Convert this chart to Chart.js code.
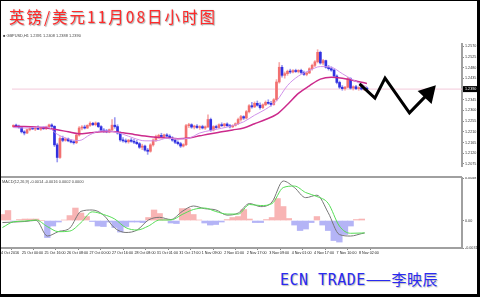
<!DOCTYPE html>
<html>
<head>
<meta charset="utf-8">
<script src="https://cdn.jsdelivr.net/npm/chart.js@4.4.0/dist/chart.umd.min.js"></script>
<style>
  html, body { margin: 0; padding: 0; background: #fff; }
  body { position: relative; width: 480px; height: 297px; overflow: hidden; }
  canvas { position: absolute; }
  #priceChart { left: 1px; top: 33px; }
  #macdChart { left: 1px; top: 177px; }
  #frame { position: absolute; left: 0; top: 0; width: 480px; height: 297px; box-sizing: border-box;
           border-style: solid; border-color: #000; border-width: 1px 3px 3px 1px; }
  #sep { position: absolute; left: 1px; top: 176px; width: 461px; height: 2px; background: #a0a0a0; }
  .tiny { position: absolute; font: 3.9px "Liberation Sans", Arial, sans-serif; color: #444; white-space: nowrap; }
  #title { position: absolute; left: 9px; top: 5px; line-height: 20px; white-space: nowrap;
           font: 15.5px "Noto Sans CJK SC", sans-serif; letter-spacing: 2px; color: #ff2a2a;
           text-shadow: 1px 1px 1px #aaa, 0 0 2px #ddd; }
  #sign { position: absolute; left: 280px; top: 270px; line-height: 18px; white-space: nowrap;
          font-size: 15px; color: #2a2af0; letter-spacing: 0.5px; text-shadow: 1px 1px 1px #bbb; }
  #sign .mono { font-family: "DejaVu Sans Mono", monospace; }
  #sign .cjk { font-family: "Noto Sans CJK SC", sans-serif; }
</style>
</head>
<body>
<canvas id="priceChart" width="476" height="144"></canvas>
<canvas id="macdChart" width="476" height="86"></canvas>
<div id="sep"></div>
<div class="tiny" style="left:3px; top:33px;">&#9632; GBPUSD,H1 1.2391 1.2408 1.2388 1.2390</div>
<div class="tiny" style="left:2px; top:179px;">MACD(12,26,9) -0.0014 -0.0016 0.0002 0.0000</div>
<div id="title">英镑/美元11月08日小时图</div>
<div id="sign"><span class="mono">ECN TRADE</span><span class="cjk">——李映辰</span></div>
<div id="frame"></div>
<script>
// 2-hour candles, GBPUSD 24 Oct - 8 Nov 2016
const opens = [
  1.2232,1.2237,1.2234,1.2228,1.2210,1.2205,1.2219,1.2225,1.2222,1.2227,
  1.2221,1.2226,1.2223,1.2231,1.2239,1.2233,1.2155,1.2102,1.2182,1.2174,
  1.2180,1.2172,1.2167,1.2164,1.2196,1.2226,1.2230,1.2226,1.2237,1.2246,
  1.2240,1.2247,1.2232,1.2216,1.2213,1.2210,1.2219,1.2238,1.2232,1.2205,
  1.2176,1.2172,1.2168,1.2175,1.2170,1.2166,1.2160,1.2145,1.2150,1.2133,
  1.2128,1.2155,1.2175,1.2190,1.2195,1.2190,1.2197,1.2192,1.2184,1.2175,
  1.2166,1.2160,1.2150,1.2156,1.2236,1.2240,1.2230,1.2234,1.2228,1.2232,
  1.2226,1.2231,1.2262,1.2218,1.2232,1.2228,1.2240,1.2236,1.2243,1.2236,
  1.2231,1.2237,1.2244,1.2262,1.2274,1.2268,1.2295,1.2320,1.2315,1.2330,
  1.2322,1.2312,1.2324,1.2334,1.2330,1.2325,1.2345,1.2420,1.2482,1.2448,
  1.2455,1.2465,1.2462,1.2468,1.2464,1.2469,1.2460,1.2452,1.2458,1.2476,
  1.2490,1.2505,1.2545,1.2500,1.2510,1.2482,1.2476,1.2470,1.2445,1.2418,
  1.2398,1.2392,1.2398,1.2434,1.2394,1.2400,1.2392,1.2396,1.2390,1.2394
];
const highs = [
  1.2240,1.2243,1.2238,1.2231,1.2215,1.2222,1.2228,1.2232,1.2230,1.2235,
  1.2229,1.2232,1.2234,1.2243,1.2244,1.2236,1.2162,1.2190,1.2192,1.2185,
  1.2184,1.2178,1.2172,1.2200,1.2232,1.2236,1.2238,1.2240,1.2252,1.2250,
  1.2252,1.2250,1.2236,1.2224,1.2220,1.2222,1.2262,1.2270,1.2240,1.2210,
  1.2186,1.2180,1.2178,1.2182,1.2178,1.2174,1.2165,1.2158,1.2154,1.2140,
  1.2160,1.2180,1.2196,1.2200,1.2204,1.2200,1.2203,1.2198,1.2190,1.2180,
  1.2172,1.2166,1.2160,1.2242,1.2246,1.2244,1.2238,1.2240,1.2236,1.2238,
  1.2235,1.2282,1.2268,1.2236,1.2238,1.2244,1.2248,1.2246,1.2248,1.2242,
  1.2240,1.2248,1.2268,1.2280,1.2278,1.2300,1.2325,1.2334,1.2336,1.2340,
  1.2332,1.2328,1.2340,1.2345,1.2338,1.2350,1.2430,1.2502,1.2490,1.2462,
  1.2470,1.2474,1.2472,1.2474,1.2472,1.2474,1.2466,1.2462,1.2480,1.2495,
  1.2510,1.2556,1.2550,1.2515,1.2512,1.2490,1.2484,1.2474,1.2450,1.2424,
  1.2405,1.2402,1.2440,1.2438,1.2404,1.2406,1.2400,1.2402,1.2398,1.2398
];
const lows = [
  1.2228,1.2230,1.2225,1.2205,1.2197,1.2202,1.2214,1.2220,1.2215,1.2219,
  1.2216,1.2220,1.2219,1.2227,1.2228,1.2148,1.2083,1.2098,1.2168,1.2170,
  1.2168,1.2163,1.2158,1.2160,1.2192,1.2218,1.2222,1.2224,1.2233,1.2236,
  1.2235,1.2228,1.2212,1.2208,1.2206,1.2206,1.2214,1.2225,1.2200,1.2170,
  1.2166,1.2163,1.2162,1.2166,1.2160,1.2156,1.2140,1.2135,1.2128,1.2115,
  1.2124,1.2150,1.2170,1.2183,1.2186,1.2185,1.2188,1.2180,1.2170,1.2160,
  1.2155,1.2144,1.2146,1.2152,1.2228,1.2225,1.2222,1.2224,1.2220,1.2222,
  1.2220,1.2228,1.2212,1.2214,1.2224,1.2225,1.2232,1.2230,1.2232,1.2226,
  1.2228,1.2234,1.2240,1.2255,1.2262,1.2264,1.2290,1.2310,1.2312,1.2318,
  1.2305,1.2308,1.2320,1.2326,1.2318,1.2322,1.2340,1.2415,1.2440,1.2436,
  1.2448,1.2456,1.2458,1.2460,1.2458,1.2455,1.2448,1.2446,1.2455,1.2470,
  1.2485,1.2500,1.2495,1.2492,1.2478,1.2470,1.2465,1.2440,1.2412,1.2392,
  1.2385,1.2386,1.2395,1.2390,1.2386,1.2388,1.2385,1.2386,1.2384,1.2388
];
const closes = [
  1.2237,1.2234,1.2228,1.2210,1.2205,1.2219,1.2225,1.2222,1.2227,1.2221,
  1.2226,1.2223,1.2231,1.2239,1.2233,1.2155,1.2102,1.2182,1.2174,1.2180,
  1.2172,1.2167,1.2164,1.2196,1.2226,1.2230,1.2226,1.2237,1.2246,1.2240,
  1.2247,1.2232,1.2216,1.2213,1.2210,1.2219,1.2238,1.2232,1.2205,1.2176,
  1.2172,1.2168,1.2175,1.2170,1.2166,1.2160,1.2145,1.2150,1.2133,1.2128,
  1.2155,1.2175,1.2190,1.2195,1.2190,1.2197,1.2192,1.2184,1.2175,1.2166,
  1.2160,1.2150,1.2156,1.2236,1.2240,1.2230,1.2234,1.2228,1.2232,1.2226,
  1.2231,1.2262,1.2218,1.2232,1.2228,1.2240,1.2236,1.2243,1.2236,1.2231,
  1.2237,1.2244,1.2262,1.2274,1.2268,1.2295,1.2320,1.2315,1.2330,1.2322,
  1.2312,1.2324,1.2334,1.2330,1.2325,1.2345,1.2420,1.2482,1.2448,1.2455,
  1.2465,1.2462,1.2468,1.2464,1.2469,1.2460,1.2452,1.2458,1.2476,1.2490,
  1.2505,1.2545,1.2500,1.2510,1.2482,1.2476,1.2470,1.2445,1.2418,1.2398,
  1.2392,1.2398,1.2434,1.2394,1.2400,1.2392,1.2396,1.2390,1.2394,1.2390
];

// moving averages and MACD lines, read every 4 bars
const maIdx = [0,4,8,12,16,20,24,28,32,36,40,44,48,52,56,60,64,68,72,76,80,84,88,92,96,100,104,108,112,116,120,124,128,129];
const fastMA = [1.2228,1.2226,1.2228,1.2232,1.2200,1.2180,1.2173,1.2198,1.2214,1.2212,1.2200,1.2183,1.2172,1.2172,1.2183,1.2180,1.2183,
  1.2205,1.2216,1.2225,1.2236,1.2252,1.2280,1.2305,1.2340,1.2405,1.2445,1.2468,1.2485,1.2482,1.2455,1.2428,1.2405,1.2400];
const slowMA = [1.2233,1.2232,1.2230,1.2226,1.2219,1.2210,1.2202,1.2206,1.2210,1.2211,1.2206,1.2199,1.2192,1.2187,1.2184,1.2181,1.2184,
  1.2193,1.2202,1.2210,1.2218,1.2226,1.2244,1.2262,1.2283,1.2325,1.2372,1.2404,1.2432,1.2440,1.2436,1.2426,1.2417,1.2414];
const macdMain = [-0.00023,-0.00017,-0.00011,0.00002,-0.00175,-0.00124,-0.00085,0.00104,0.00119,0.00062,-0.00085,-0.00135,-0.00107,
  0.00006,0.00036,0.00011,0.00102,0.00164,0.00134,0.00120,0.00061,0.00085,0.00192,0.00157,0.00209,0.00446,0.00372,0.00258,0.00286,
  0.00090,-0.00158,-0.00175,-0.00147,-0.00141];
const macdSignal = [-0.00079,-0.00014,-0.00006,0.00006,-0.00068,-0.00126,-0.00119,-0.00023,0.00098,0.00068,0.00017,-0.00081,-0.00107,
  -0.00062,0.00006,0.00006,0.00068,0.00124,0.00141,0.00102,0.00073,0.00073,0.00181,0.00169,0.00191,0.00372,0.00389,0.00316,0.00271,
  0.00195,-0.00062,-0.00144,-0.00141,-0.00139];

// histogram, every 2 bars (0, 2, ... 128)
const histIdx = Array.from({ length: 65 }, (_, k) => k * 2);
const macdHist = [0.00068,0.00113,-0.00006,0.00011,0.00017,0.00017,0.00017,0,-0.00192,-0.00062,-0.00017,0.00006,0.00056,0.00141,
  0.00085,0.00045,-0.00011,-0.00062,-0.00068,-0.00017,-0.00079,-0.00130,-0.00068,-0.00017,-0.00017,-0.00023,0.00034,0.00119,0.00079,
  0.00011,-0.00028,-0.00034,0.00135,0.00135,0.00068,0.00006,-0.00028,-0.00051,-0.00045,-0.00017,0.00011,0.00034,0.00045,0.00124,
  0.00017,-0.00023,-0.00023,0.00011,0.00034,0.00248,0.00158,0.00023,-0.00051,-0.00113,-0.00096,-0.00023,0.00045,-0.00051,-0.00113,
  -0.00226,-0.00243,-0.00158,-0.00062,0.00011,0.00017];

// hand drawn forecast zig-zag (bar index, price)
const forecastIdx = [126.3, 131.9, 135.6, 144.5, 151.4];
const forecastPrice = [1.2412, 1.2352, 1.2436, 1.2290, 1.2372];

// axes
const priceTicks = [1.2075,1.2120,1.2165,1.2210,1.2255,1.2300,1.2345,1.2390,1.2435,1.2480,1.2525,1.2570];
const macdTicks = [-0.0031, 0, 0.0048];
const macdTickLabels = ["-0.0031", "0.00", "0.0048"];
const timeTickIdx = [-0.5,7,15,23,31,39,47,55,63,71,79,87,95,103,111,119,127];
const timeTickLabels = ["4 Oct 2016","25 Oct 00:00","25 Oct 16:00","26 Oct 08:00","27 Oct 00:00","27 Oct 16:00","28 Oct 08:00",
  "31 Oct 01:00","31 Oct 17:00","1 Nov 09:00","2 Nov 01:00","2 Nov 17:00","3 Nov 09:00","4 Nov 01:00","4 Nov 17:00",
  "7 Nov 10:00","8 Nov 02:00"];

const X_MIN = -0.5, X_MAX = 163.67;
const tickFont = { family: "'Liberation Sans', Arial, sans-serif", size: 3.7 };
const axisGrey = "#a0a0a0";

function isBull(i) { return closes[i] >= opens[i]; }

function fixRightAxis(scale) {
  scale.width = 15;
  scale.paddingTop = 0;
  scale.paddingBottom = 0;
}

// bid line across the chart and black price box on the axis
const bidPlugin = {
  id: "bid",
  beforeDatasetsDraw(chart) {
    const { ctx, chartArea } = chart;
    const y = chart.scales.y.getPixelForValue(closes[closes.length - 1]);
    ctx.save();
    ctx.strokeStyle = "#f3c9da";
    ctx.lineWidth = 1;
    ctx.beginPath();
    ctx.moveTo(chartArea.left, y);
    ctx.lineTo(chartArea.right, y);
    ctx.stroke();
    ctx.restore();
  },
  afterDraw(chart) {
    const { ctx, chartArea } = chart;
    const last = closes[closes.length - 1];
    const y = chart.scales.y.getPixelForValue(last);
    ctx.save();
    ctx.fillStyle = "#000";
    ctx.fillRect(chartArea.right + 1, y - 3, 14, 6);
    ctx.fillStyle = "#fff";
    ctx.font = tickFont.size + "px " + tickFont.family;
    ctx.textBaseline = "middle";
    ctx.fillText(last.toFixed(4), chartArea.right + 3, y);
    ctx.restore();
  }
};

const priceChart = new Chart(document.getElementById("priceChart"), {
  type: "bar",
  data: {
    datasets: [
      {
        type: "line",
        data: forecastIdx.map((x, k) => ({ x: x, y: forecastPrice[k] })),
        borderColor: "#000",
        borderWidth: 3,
        pointStyle: "triangle",
        pointRadius: forecastIdx.map((x, k) => (k === forecastIdx.length - 1 ? 11 : 0)),
        pointRotation: 43,
        pointBackgroundColor: "#000",
        pointBorderWidth: 0,
        order: 0
      },
      {
        type: "line",
        data: maIdx.map((x, k) => ({ x: x, y: fastMA[k] })),
        borderColor: "#d092ea",
        borderWidth: 1,
        pointRadius: 0,
        cubicInterpolationMode: "monotone",
        order: 1
      },
      {
        type: "line",
        data: maIdx.map((x, k) => ({ x: x, y: slowMA[k] })),
        borderColor: "#cc2a8c",
        borderWidth: 1.5,
        pointRadius: 0,
        cubicInterpolationMode: "monotone",
        order: 2
      },
      {
        data: closes.map((c, i) => ({ x: i, y: [opens[i], c] })),
        backgroundColor: (ctx) => (isBull(ctx.dataIndex) ? "#f27070" : "#3030e0"),
        barThickness: 2,
        minBarLength: 1,
        grouped: false,
        order: 3
      },
      {
        data: closes.map((c, i) => ({ x: i, y: [lows[i], highs[i]] })),
        backgroundColor: (ctx) => (isBull(ctx.dataIndex) ? "#f7aaaa" : "#9a9af2"),
        barThickness: 1,
        grouped: false,
        order: 4
      }
    ]
  },
  options: {
    responsive: false,
    animation: false,
    events: [],
    layout: { padding: 0 },
    plugins: { legend: { display: false }, tooltip: { enabled: false } },
    scales: {
      x: { type: "linear", display: false, min: X_MIN, max: X_MAX, offset: false },
      y: {
        position: "right",
        min: 1.2066,
        max: 1.2580,
        beginAtZero: false,
        afterBuildTicks: (scale) => { scale.ticks = priceTicks.map((v) => ({ value: v })); },
        afterFit: fixRightAxis,
        ticks: { font: tickFont, color: "#333", padding: 1, callback: (v) => v.toFixed(4) },
        grid: { drawOnChartArea: false, tickLength: 2, color: "#888" },
        border: { display: true, color: axisGrey, width: 2 }
      }
    }
  },
  plugins: [bidPlugin]
});

const macdChart = new Chart(document.getElementById("macdChart"), {
  type: "bar",
  data: {
    datasets: [
      {
        type: "line",
        data: maIdx.map((x, k) => ({ x: x, y: macdSignal[k] })),
        borderColor: "#56dd56",
        borderWidth: 1,
        pointRadius: 0,
        cubicInterpolationMode: "monotone",
        order: 0
      },
      {
        type: "line",
        data: maIdx.map((x, k) => ({ x: x, y: macdMain[k] })),
        borderColor: "#777",
        borderWidth: 1,
        pointRadius: 0,
        cubicInterpolationMode: "monotone",
        order: 1
      },
      {
        data: histIdx.map((x, k) => ({ x: x, y: macdHist[k] })),
        backgroundColor: (ctx) => (macdHist[ctx.dataIndex] >= 0 ? "#f8b4b4" : "#b4b4f6"),
        barThickness: 5.7,
        grouped: false,
        order: 2
      }
    ]
  },
  options: {
    responsive: false,
    animation: false,
    events: [],
    layout: { padding: { top: 1 } },
    plugins: { legend: { display: false }, tooltip: { enabled: false } },
    scales: {
      x: {
        type: "linear",
        min: X_MIN,
        max: X_MAX,
        offset: false,
        afterBuildTicks: (scale) => { scale.ticks = timeTickIdx.map((v) => ({ value: v })); },
        afterFit: (scale) => { scale.height = 15; scale.paddingLeft = 0; scale.paddingRight = 0; },
        ticks: {
          autoSkip: false,
          maxRotation: 0,
          align: "start",
          font: tickFont,
          color: "#222",
          padding: 1,
          callback: (v, k) => timeTickLabels[k]
        },
        grid: { drawOnChartArea: false, tickLength: 2, color: "#888" },
        border: { display: true, color: axisGrey, width: 2 }
      },
      y: {
        position: "right",
        min: -0.0031,
        max: 0.0048,
        afterBuildTicks: (scale) => { scale.ticks = macdTicks.map((v) => ({ value: v })); },
        afterFit: fixRightAxis,
        ticks: { font: tickFont, color: "#333", padding: 1, callback: (v, k) => macdTickLabels[k] },
        grid: { drawOnChartArea: false, tickLength: 2, color: "#888" },
        border: { display: true, color: axisGrey, width: 2 }
      }
    }
  }
});
</script>
</body>
</html>
